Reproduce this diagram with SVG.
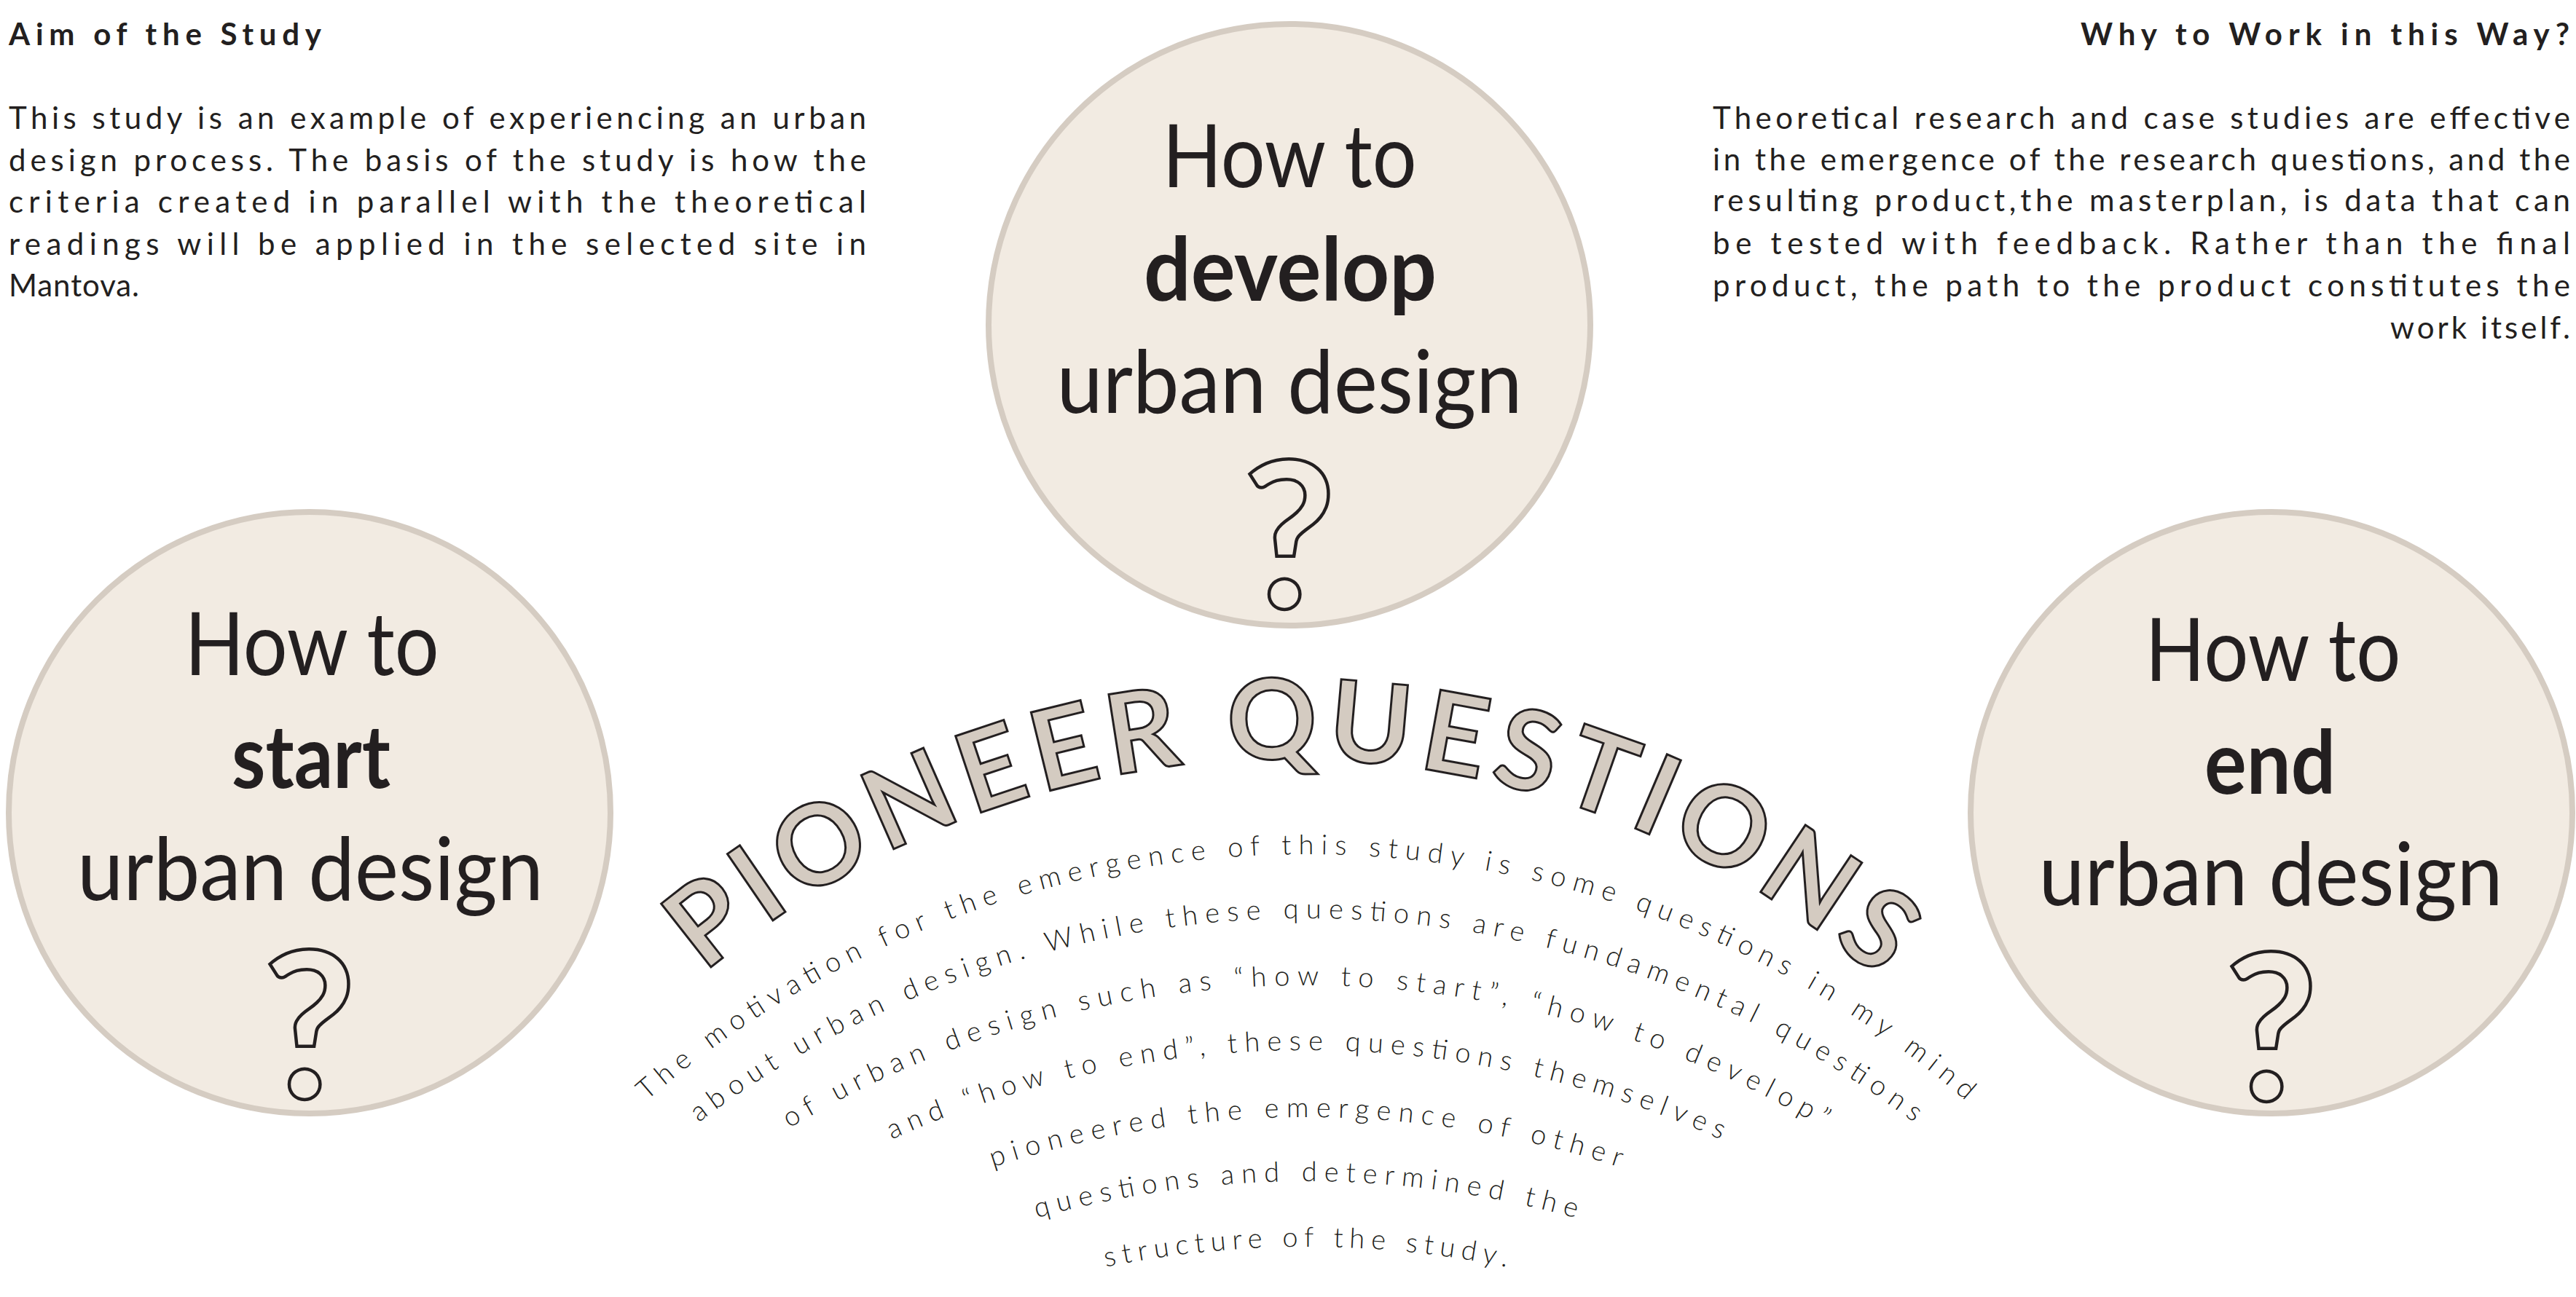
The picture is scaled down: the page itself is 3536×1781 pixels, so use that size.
<svg xmlns="http://www.w3.org/2000/svg" width="3536" height="1781" viewBox="0 0 3536 1781">
<style>
.head{font-family:Lato,"Noto Sans",sans-serif;font-weight:700;font-size:42px;fill:#231f20}
.para{font-family:Lato,"Noto Sans",sans-serif;font-weight:400;font-size:42px;fill:#231f20}
.bubble{fill:#f2ebe2;stroke:#d5ccc2;stroke-width:8}
.ql{font-family:Lato,"Noto Sans",sans-serif;font-weight:400;font-size:120px;fill:#231f20;text-anchor:middle}
.qb{font-weight:700}
.qm{font-family:Lato,"Noto Sans",sans-serif;font-weight:700;font-size:280px;fill:#f2ebe2;stroke:#231f20;stroke-width:4.5;text-anchor:middle}
.title{font-family:Lato,"Noto Sans",sans-serif;font-weight:700;font-size:153px;fill:#d4cbc1;stroke:#231f20;stroke-width:3;text-anchor:middle}
.arc{font-family:Lato,"Noto Sans",sans-serif;font-weight:300;font-size:38px;fill:#231f20;text-anchor:middle}
</style>
<defs>
<path id="tarc" d="M604.7,1856.6 A1238,1238 0 0 1 2931.3,1856.6"/>
<path id="a1" d="M597.9,1863 A1380,1380 0 0 1 2988.1,1863"/>
<path id="a2" d="M597.9,1951 A1380,1380 0 0 1 2988.1,1951"/>
<path id="a3" d="M597.9,2043 A1380,1380 0 0 1 2988.1,2043"/>
<path id="a4" d="M597.9,2132 A1380,1380 0 0 1 2988.1,2132"/>
<path id="a5" d="M597.9,2224 A1380,1380 0 0 1 2988.1,2224"/>
<path id="a6" d="M597.9,2312 A1380,1380 0 0 1 2988.1,2312"/>
<path id="a7" d="M597.9,2402 A1380,1380 0 0 1 2988.1,2402"/>
</defs>
<rect x="0" y="0" width="3536" height="1781" fill="#ffffff"/>

<g id="aim">
<text class="head" x="12" y="62" textLength="429" lengthAdjust="spacing">Aim of the Study</text>
<text class="para" x="12" y="177" textLength="1177" lengthAdjust="spacing">This study is an example of experiencing an urban</text>
<text class="para" x="12" y="234.5" textLength="1177" lengthAdjust="spacing">design process. The basis of the study is how the</text>
<text class="para" x="12" y="292" textLength="1177" lengthAdjust="spacing">criteria created in parallel with the theoretical</text>
<text class="para" x="12" y="349.5" textLength="1177" lengthAdjust="spacing">readings will be applied in the selected site in</text>
<text class="para" x="12" y="407" textLength="179" lengthAdjust="spacing">Mantova.</text>
</g>

<g id="why">
<text class="head" x="3527" y="62" text-anchor="end" textLength="671" lengthAdjust="spacing">Why to Work in this Way?</text>
<text class="para" x="2351" y="177" textLength="1177" lengthAdjust="spacing">Theoretical research and case studies are effective</text>
<text class="para" x="2351" y="233.5" textLength="1177" lengthAdjust="spacing">in the emergence of the research questions, and the</text>
<text class="para" x="2351" y="290" textLength="1177" lengthAdjust="spacing">resulting product,the masterplan, is data that can</text>
<text class="para" x="2351" y="348.5" textLength="1177" lengthAdjust="spacing">be tested with feedback. Rather than the final</text>
<text class="para" x="2351" y="406.5" textLength="1177" lengthAdjust="spacing">product, the path to the product constitutes the</text>
<text class="para" x="3528" y="465" text-anchor="end" textLength="247" lengthAdjust="spacing">work itself.</text>
</g>

<g id="develop">
<circle class="bubble" cx="1770" cy="446" r="413"/>
<text class="ql" x="1770" y="257" textLength="349" lengthAdjust="spacingAndGlyphs">How to</text>
<text class="ql qb" x="1771" y="412.5" textLength="402" lengthAdjust="spacingAndGlyphs">develop</text>
<text class="ql" x="1770" y="567" textLength="639" lengthAdjust="spacingAndGlyphs">urban design</text>
<text class="qm" x="1770" y="835">?</text>
</g>

<g id="start">
<circle class="bubble" cx="425" cy="1116" r="413"/>
<text class="ql" x="428" y="926.5" textLength="349" lengthAdjust="spacingAndGlyphs">How to</text>
<text class="ql qb" x="427" y="1081.5" textLength="218" lengthAdjust="spacingAndGlyphs">start</text>
<text class="ql" x="426" y="1236" textLength="640" lengthAdjust="spacingAndGlyphs">urban design</text>
<text class="qm" x="425" y="1508">?</text>
</g>

<g id="end">
<circle class="bubble" cx="3118" cy="1116" r="413"/>
<text class="ql" x="3120" y="935" textLength="351" lengthAdjust="spacingAndGlyphs">How to</text>
<text class="ql qb" x="3116" y="1090" textLength="180" lengthAdjust="spacingAndGlyphs">end</text>
<text class="ql" x="3117" y="1243" textLength="637" lengthAdjust="spacingAndGlyphs">urban design</text>
<text class="qm" x="3118" y="1511">?</text>
</g>

<g id="pioneer">
<text class="title"><textPath href="#tarc" startOffset="1518.5" textLength="1755" lengthAdjust="spacing">PIONEER QUESTIONS</textPath></text>
<text class="arc"><textPath href="#a1" startOffset="50%" textLength="1975" lengthAdjust="spacing">The motivation for the emergence of this study is some questions in my mind</textPath></text>
<text class="arc"><textPath href="#a2" startOffset="50%" textLength="1791" lengthAdjust="spacing">about urban design. While these questions are fundamental questions</textPath></text>
<text class="arc"><textPath href="#a3" startOffset="50%" textLength="1490" lengthAdjust="spacing">of urban design such as “how to start”, “how to develop”</textPath></text>
<text class="arc"><textPath href="#a4" startOffset="50%" textLength="1173" lengthAdjust="spacing">and “how to end”, these questions themselves</textPath></text>
<text class="arc"><textPath href="#a5" startOffset="50%" textLength="875" lengthAdjust="spacing">pioneered the emergence of other</textPath></text>
<text class="arc"><textPath href="#a6" startOffset="50%" textLength="749" lengthAdjust="spacing">questions and determined the</textPath></text>
<text class="arc"><textPath href="#a7" startOffset="50%" textLength="554" lengthAdjust="spacing">structure of the study.</textPath></text>
</g>
</svg>
